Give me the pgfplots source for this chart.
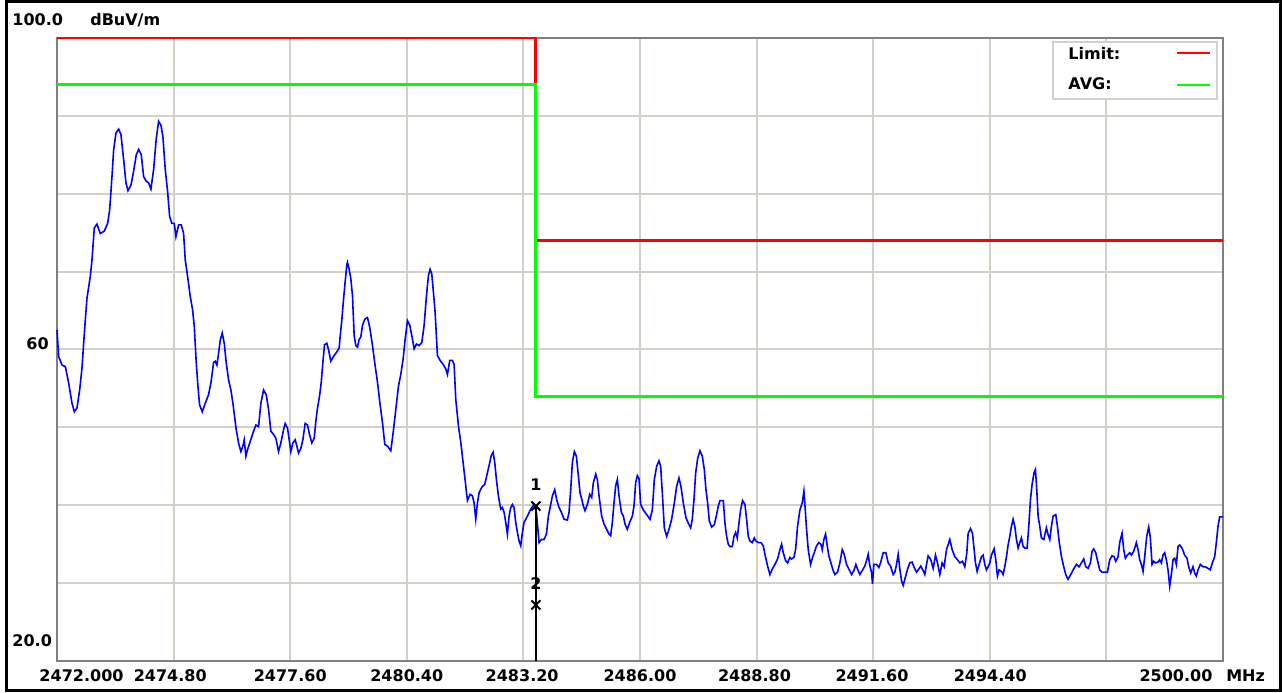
\documentclass[border=0pt]{standalone}
\usepackage{pgfplots}
\pgfplotsset{compat=1.18}
\usepackage{pgfplotstable}
\usepackage{fontspec}
\setmainfont{DejaVu Sans}
\definecolor{gridc}{RGB}{212,208,200}
\definecolor{axc}{RGB}{128,128,128}
\definecolor{limred}{RGB}{255,0,0}
\definecolor{avggreen}{RGB}{0,255,0}
\definecolor{tracec}{RGB}{0,0,255}
\pgfplotstableread{
x y
2472.000 62.5
2472.040 59.1
2472.120 58.0
2472.200 57.8
2472.280 55.7
2472.360 53.1
2472.416 52.0
2472.480 52.5
2472.544 54.8
2472.600 57.6
2472.640 60.8
2472.680 63.8
2472.720 66.6
2472.800 69.4
2472.840 71.5
2472.896 75.6
2472.960 76.1
2473.040 74.9
2473.136 75.2
2473.216 76.2
2473.264 77.9
2473.320 82.2
2473.360 85.6
2473.416 87.8
2473.480 88.3
2473.536 87.6
2473.600 84.4
2473.656 81.4
2473.704 80.4
2473.776 81.1
2473.840 82.9
2473.904 85.0
2473.960 85.7
2474.024 85.0
2474.080 82.2
2474.144 81.6
2474.200 81.4
2474.256 80.6
2474.320 83.1
2474.384 87.1
2474.440 89.3
2474.496 88.8
2474.544 87.3
2474.600 83.1
2474.656 80.3
2474.704 77.1
2474.760 76.2
2474.816 76.2
2474.856 74.5
2474.920 76.0
2474.984 76.0
2475.040 74.9
2475.080 71.5
2475.136 69.4
2475.200 66.8
2475.256 65.1
2475.296 63.0
2475.344 58.3
2475.384 55.3
2475.424 52.9
2475.488 52.0
2475.560 53.1
2475.640 54.2
2475.696 55.7
2475.760 58.3
2475.800 58.5
2475.840 58.0
2475.880 59.5
2475.920 61.2
2475.968 62.1
2476.016 60.8
2476.064 58.3
2476.120 56.1
2476.176 54.8
2476.224 53.1
2476.264 51.4
2476.304 49.7
2476.360 48.0
2476.416 46.9
2476.464 47.6
2476.496 48.4
2476.536 46.3
2476.584 47.3
2476.640 48.2
2476.720 49.5
2476.776 50.3
2476.840 50.1
2476.896 53.1
2476.960 54.8
2477.024 54.2
2477.080 52.3
2477.136 49.5
2477.200 49.1
2477.256 48.6
2477.320 46.9
2477.376 48.0
2477.440 49.7
2477.480 50.5
2477.536 49.9
2477.576 48.4
2477.616 46.9
2477.664 48.0
2477.720 48.4
2477.760 47.6
2477.800 46.7
2477.856 47.3
2477.904 48.4
2477.960 50.5
2478.016 50.3
2478.064 49.1
2478.120 48.0
2478.176 48.6
2478.216 50.8
2478.256 52.5
2478.304 54.0
2478.344 55.7
2478.384 58.3
2478.424 60.6
2478.480 60.8
2478.520 60.0
2478.576 58.5
2478.640 59.1
2478.720 59.7
2478.776 60.2
2478.800 61.7
2478.840 63.8
2478.880 66.4
2478.920 68.7
2478.960 70.9
2478.976 71.2
2479.016 70.3
2479.056 69.1
2479.096 66.9
2479.136 61.8
2479.176 60.5
2479.216 60.3
2479.256 61.3
2479.296 61.6
2479.336 63.1
2479.392 63.9
2479.456 64.1
2479.512 62.8
2479.576 60.5
2479.640 57.9
2479.696 55.8
2479.752 53.2
2479.816 50.6
2479.872 47.8
2479.936 47.6
2480.016 47.0
2480.072 49.3
2480.136 52.3
2480.200 55.3
2480.256 56.8
2480.312 58.8
2480.360 61.3
2480.416 63.7
2480.472 63.1
2480.520 61.8
2480.576 60.1
2480.632 60.7
2480.696 60.5
2480.760 60.9
2480.816 63.1
2480.872 66.9
2480.920 69.5
2480.960 70.3
2481.000 69.7
2481.040 67.3
2481.080 64.8
2481.136 59.2
2481.200 58.6
2481.272 58.1
2481.336 57.5
2481.376 56.8
2481.432 58.6
2481.496 58.6
2481.536 58.1
2481.576 53.6
2481.640 50.2
2481.696 48.1
2481.752 45.5
2481.816 42.5
2481.856 40.6
2481.920 41.4
2481.976 41.2
2482.016 40.3
2482.056 38.2
2482.096 40.3
2482.136 41.6
2482.200 42.3
2482.272 42.7
2482.320 43.8
2482.376 45.1
2482.424 46.3
2482.472 46.8
2482.512 45.5
2482.552 43.3
2482.600 41.2
2482.656 39.5
2482.696 39.7
2482.736 39.1
2482.776 37.8
2482.816 36.3
2482.856 38.6
2482.896 39.7
2482.936 40.1
2482.976 39.7
2483.016 37.8
2483.056 36.5
2483.096 35.4
2483.136 34.8
2483.176 36.5
2483.216 37.8
2483.296 38.6
2483.376 39.5
2483.456 40.1
2483.512 39.1
2483.576 35.2
2483.632 35.6
2483.696 35.6
2483.752 36.3
2483.800 38.6
2483.856 40.1
2483.896 41.2
2483.952 42.0
2484.000 40.7
2484.056 39.7
2484.112 39.1
2484.176 38.2
2484.256 38.1
2484.296 39.1
2484.336 42.0
2484.376 45.5
2484.424 46.9
2484.472 46.3
2484.520 43.8
2484.560 41.6
2484.600 40.8
2484.640 39.9
2484.680 39.3
2484.736 40.1
2484.792 41.4
2484.840 41.0
2484.880 42.9
2484.936 44.0
2484.976 43.3
2485.016 41.2
2485.080 38.6
2485.136 37.6
2485.200 36.9
2485.256 36.3
2485.296 36.1
2485.336 37.8
2485.376 40.3
2485.416 42.5
2485.456 43.3
2485.496 41.2
2485.552 39.1
2485.600 38.6
2485.640 37.6
2485.696 36.9
2485.752 37.8
2485.816 38.6
2485.856 39.9
2485.896 42.9
2485.936 43.8
2485.976 43.4
2486.016 40.1
2486.080 39.4
2486.160 38.8
2486.240 38.2
2486.296 39.4
2486.344 43.3
2486.400 45.0
2486.456 45.7
2486.496 45.0
2486.536 41.6
2486.584 37.1
2486.640 36.0
2486.696 36.9
2486.760 38.2
2486.824 40.3
2486.880 42.4
2486.936 43.5
2486.984 42.4
2487.040 40.3
2487.104 38.4
2487.160 37.7
2487.216 37.1
2487.256 38.2
2487.296 40.7
2487.336 44.1
2487.384 46.0
2487.440 47.0
2487.496 46.3
2487.544 44.6
2487.584 42.0
2487.624 40.3
2487.664 38.0
2487.720 37.2
2487.784 37.5
2487.840 38.8
2487.880 39.9
2487.920 40.6
2488.000 40.6
2488.040 37.7
2488.080 36.0
2488.120 35.0
2488.160 34.7
2488.216 34.7
2488.256 36.0
2488.296 36.5
2488.336 35.8
2488.376 37.7
2488.416 39.4
2488.464 40.6
2488.520 40.1
2488.560 38.2
2488.600 36.0
2488.640 35.4
2488.696 35.2
2488.744 35.8
2488.784 35.4
2488.840 35.2
2488.904 35.2
2488.960 34.8
2489.000 33.7
2489.064 32.2
2489.120 31.1
2489.176 31.8
2489.240 32.4
2489.304 33.1
2489.360 34.3
2489.400 35.0
2489.440 33.9
2489.496 32.9
2489.544 32.6
2489.600 33.3
2489.640 33.1
2489.696 33.3
2489.736 34.3
2489.784 37.3
2489.840 39.4
2489.896 40.3
2489.936 41.8
2489.960 40.1
2490.000 36.9
2490.040 34.3
2490.096 32.4
2490.144 33.3
2490.184 33.9
2490.240 34.8
2490.296 35.2
2490.344 35.0
2490.376 34.3
2490.416 35.6
2490.456 36.3
2490.496 34.8
2490.536 33.5
2490.584 32.6
2490.640 31.6
2490.680 31.1
2490.744 31.4
2490.800 32.6
2490.856 34.3
2490.904 33.7
2490.960 32.4
2491.016 31.8
2491.080 31.1
2491.136 31.6
2491.184 32.4
2491.224 31.8
2491.280 31.1
2491.336 31.6
2491.400 32.2
2491.440 32.9
2491.480 33.7
2491.520 32.2
2491.560 31.4
2491.584 29.9
2491.616 32.4
2491.680 32.4
2491.736 32.0
2491.776 32.6
2491.840 33.9
2491.904 33.9
2491.960 32.6
2492.016 32.2
2492.080 31.1
2492.120 31.4
2492.160 32.4
2492.200 33.7
2492.240 31.8
2492.280 30.3
2492.320 29.7
2492.360 30.5
2492.424 31.8
2492.480 32.6
2492.536 32.7
2492.584 32.0
2492.640 31.4
2492.696 31.8
2492.744 32.2
2492.800 31.6
2492.840 31.1
2492.880 32.4
2492.920 33.5
2492.984 33.0
2493.040 31.9
2493.096 33.6
2493.144 32.6
2493.200 31.1
2493.256 32.6
2493.304 32.1
2493.360 34.3
2493.440 35.6
2493.496 34.3
2493.560 33.4
2493.624 33.0
2493.680 32.6
2493.744 32.8
2493.800 32.1
2493.848 33.9
2493.880 36.4
2493.936 37.0
2493.984 36.4
2494.024 34.3
2494.056 32.6
2494.096 31.5
2494.144 32.4
2494.200 33.4
2494.240 33.6
2494.280 32.4
2494.320 31.7
2494.360 32.1
2494.400 32.6
2494.440 33.6
2494.504 34.4
2494.544 33.0
2494.584 30.9
2494.624 31.7
2494.680 31.5
2494.720 31.1
2494.760 32.1
2494.800 33.4
2494.840 34.9
2494.880 36.0
2494.920 37.3
2494.960 38.2
2495.000 37.3
2495.040 35.6
2495.080 34.5
2495.120 35.2
2495.160 35.8
2495.200 34.7
2495.240 34.5
2495.296 34.5
2495.336 37.3
2495.376 40.7
2495.416 42.7
2495.464 44.2
2495.496 44.6
2495.528 42.0
2495.560 38.6
2495.600 37.3
2495.640 35.8
2495.696 35.6
2495.760 37.1
2495.800 36.2
2495.840 35.6
2495.880 37.3
2495.920 38.6
2495.984 38.8
2496.024 37.3
2496.064 35.4
2496.120 33.4
2496.176 32.1
2496.224 31.1
2496.280 30.5
2496.344 31.1
2496.400 31.7
2496.480 32.4
2496.544 32.1
2496.600 32.6
2496.656 33.1
2496.704 32.1
2496.760 31.9
2496.816 32.6
2496.856 34.1
2496.896 34.4
2496.944 33.9
2497.000 32.6
2497.040 31.7
2497.096 31.4
2497.160 31.4
2497.224 31.4
2497.280 33.0
2497.336 33.5
2497.384 33.4
2497.424 32.8
2497.480 33.4
2497.520 35.2
2497.576 36.4
2497.616 34.3
2497.656 33.2
2497.704 33.6
2497.760 33.9
2497.800 33.6
2497.856 34.1
2497.920 35.2
2497.960 34.3
2498.000 33.0
2498.040 32.4
2498.080 31.5
2498.120 33.4
2498.168 36.0
2498.216 37.2
2498.256 35.8
2498.296 32.4
2498.336 32.8
2498.376 32.6
2498.440 32.7
2498.480 33.0
2498.520 32.6
2498.560 33.6
2498.600 33.9
2498.640 33.0
2498.680 31.7
2498.720 29.6
2498.760 31.1
2498.800 33.0
2498.840 33.2
2498.880 32.4
2498.920 34.7
2498.960 34.9
2499.016 34.5
2499.080 33.6
2499.136 33.2
2499.176 32.1
2499.224 31.3
2499.280 32.1
2499.320 31.3
2499.360 30.9
2499.400 31.7
2499.456 32.4
2499.520 32.1
2499.576 32.1
2499.640 31.9
2499.696 31.7
2499.744 32.6
2499.800 33.4
2499.840 35.2
2499.880 37.3
2499.920 38.5
2500.000 38.5
}\tracedata
\begin{document}
\fontsize{8}{9.6}\selectfont\bfseries
\begin{tikzpicture}
\useasboundingbox (-28.5pt,-15.5pt) rectangle (612.5pt,330.5pt);
\draw[black, line width=1.5pt] (-25.25pt,-14.75pt) rectangle (611.75pt,329.75pt);
\begin{axis}[
  at={(0pt,0pt)}, anchor=south west,
  scale only axis, width=583pt, height=311.5pt,
  xmin=2472, xmax=2500, ymin=20, ymax=100,
  xtick={2474.8,2477.6,2480.4,2483.2,2486.0,2488.8,2491.6,2494.4,2497.2},
  ytick={30,40,50,60,70,80,90},
  xticklabels={}, yticklabels={},
  major tick length=0pt,
  grid=major,
  grid style={gridc, line width=1pt},
  axis line style={axc, line width=1pt},
  clip=false,
]
\addplot[limred, line width=1.4pt] coordinates {(2472,100) (2483.5,100) (2483.5,74) (2500,74)};
\addplot[avggreen, line width=1.4pt] coordinates {(2472,94) (2483.5,94) (2483.5,54) (2500,54)};
\addplot[tracec, line width=0.8pt] table[x=x,y=y] {\tracedata};
\addplot[black, line width=0.7pt] coordinates {(2483.5,39.9) (2483.5,20)};
\addplot[black, only marks, mark=x, mark size=3.2pt, mark options={line width=1pt},
  point meta=explicit symbolic, nodes near coords,
  nodes near coords style={anchor=center, yshift=10.5pt, inner sep=0pt, black, font=\fontsize{8}{9.6}\selectfont\bfseries}]
  coordinates {(2483.5,39.9) [1] (2483.5,27.2) [2]};
% legend
\draw[gridc, fill=white, line width=0.8pt] (axis cs:2495.92,99.49) rectangle (axis cs:2499.86,92.17);
\node[anchor=west, inner sep=0pt] at (axis cs:2496.28,98.07) {Limit:};
\node[anchor=west, inner sep=0pt] at (axis cs:2496.28,94.09) {AVG:};
\draw[limred, line width=1.4pt] (axis cs:2498.9,98.07) -- (axis cs:2499.69,98.07);
\draw[avggreen, line width=1.4pt] (axis cs:2498.9,93.96) -- (axis cs:2499.69,93.96);
% y labels
\node[anchor=west, inner sep=0pt] at (axis cs:2470.92,102.31) {100.0};
\node[anchor=west, inner sep=0pt] at (axis cs:2472.79,102.31) {dBuV/m};
\node[anchor=east, inner sep=0pt] at (axis cs:2471.81,60.7) {60};
\node[anchor=west, inner sep=0pt] at (axis cs:2470.92,22.57) {20.0};
% x labels
\node[anchor=west, inner sep=0pt] at (axis cs:2471.57,18.07) {2472.000};
\node[inner sep=0pt] at (axis cs:2474.72,18.07) {2474.80};
\node[inner sep=0pt] at (axis cs:2477.60,18.07) {2477.60};
\node[inner sep=0pt] at (axis cs:2480.40,18.07) {2480.40};
\node[inner sep=0pt] at (axis cs:2483.17,18.07) {2483.20};
\node[inner sep=0pt] at (axis cs:2486.00,18.07) {2486.00};
\node[inner sep=0pt] at (axis cs:2488.75,18.07) {2488.80};
\node[inner sep=0pt] at (axis cs:2491.57,18.07) {2491.60};
\node[inner sep=0pt] at (axis cs:2494.41,18.07) {2494.40};
\node[inner sep=0pt] at (axis cs:2498.87,18.07) {2500.00};
\node[anchor=west, inner sep=0pt] at (axis cs:2500.07,18.07) {MHz};
\end{axis}
\end{tikzpicture}
\end{document}
